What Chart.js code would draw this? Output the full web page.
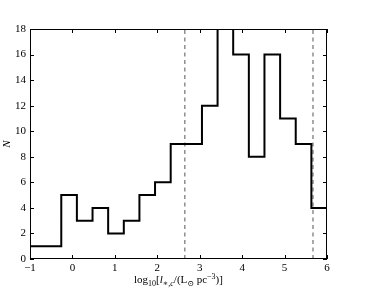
<!DOCTYPE html>
<html>
<head>
<meta charset="utf-8">
<script src="https://cdn.jsdelivr.net/npm/chart.js@4"></script>
<style>
  html, body { margin: 0; padding: 0; background: #fff; }
  #wrap { width: 366px; height: 288px; }
</style>
</head>
<body>
<div id="wrap"><canvas id="hist"></canvas></div>
<script>
// histogram bins (left edges) and counts
var binEdges = [-1.0, -0.632, -0.263, 0.105, 0.474, 0.842, 1.211, 1.579, 1.947, 2.316,
                2.684, 3.053, 3.421, 3.789, 4.158, 4.526, 4.895, 5.263, 5.632, 6.0];
var counts = [1, 1, 5, 3, 4, 2, 3, 5, 6, 9, 9, 12, 18, 16, 8, 16, 11, 9, 4];
// vertical dashed markers
var markerX = [2.65, 5.67];
var xTicks = [-1, 0, 1, 2, 3, 4, 5, 6];
var yTicks = [0, 2, 4, 6, 8, 10, 12, 14, 16, 18];

var serif = '"Liberation Serif", "DejaVu Serif", serif';

// step outline points
var stepPts = counts.map(function (c, i) { return { x: binEdges[i], y: c }; });
stepPts.push({ x: binEdges[binEdges.length - 1], y: counts[counts.length - 1] });
stepPts.push({ x: binEdges[binEdges.length - 1], y: 0 });

var datasets = [{
    data: stepPts, stepped: 'before', borderColor: '#000', borderWidth: 2,
    pointRadius: 0, fill: false, order: 0
}];
markerX.forEach(function (m) {
    datasets.push({
        data: [{ x: m, y: 0 }, { x: m, y: 18 }], borderColor: '#555', borderWidth: 1,
        borderDash: [4, 3.5], pointRadius: 0, fill: false, order: 1
    });
});

// frame + inward ticks on all four sides
var framePlugin = {
    id: 'frame',
    afterDraw: function (chart) {
        var ctx = chart.ctx, a = chart.chartArea;
        var xs = chart.scales.x, ys = chart.scales.y;
        ctx.save();
        ctx.strokeStyle = '#000';
        ctx.lineWidth = 1;
        ctx.strokeRect(a.left + 0.5, a.top + 0.5, a.right - a.left - 1, a.bottom - a.top - 1);
        ctx.beginPath();
        xTicks.forEach(function (v) {
            var px = Math.round(xs.getPixelForValue(v)) + 0.5;
            ctx.moveTo(px, a.bottom); ctx.lineTo(px, a.bottom - 4);
            ctx.moveTo(px, a.top); ctx.lineTo(px, a.top + 4);
        });
        yTicks.forEach(function (v) {
            var py = Math.round(ys.getPixelForValue(v)) + 0.5;
            ctx.moveTo(a.left, py); ctx.lineTo(a.left + 4, py);
            ctx.moveTo(a.right, py); ctx.lineTo(a.right - 4, py);
        });
        ctx.stroke();

        // x axis label with sub/superscripts
        var base = '11px ' + serif, small = '8px ' + serif;
        var ital = 'italic 11px ' + serif, smallItal = 'italic 8px ' + serif;
        var parts = [
            { t: 'log', f: base, dy: 0 }, { t: '10', f: small, dy: 3 }, { t: '[', f: base, dy: 0 },
            { t: 'l', f: ital, dy: 0 }, { t: '\u2217,c', f: smallItal, dy: 3 },
            { t: '/(L', f: base, dy: 0 }, { t: '\u2299', f: small, dy: 3 },
            { t: ' pc', f: base, dy: 0 }, { t: '\u22123', f: small, dy: -4 }, { t: ')]', f: base, dy: 0 }
        ];
        var total = 0;
        parts.forEach(function (p) { ctx.font = p.f; p.w = ctx.measureText(p.t).width; total += p.w; });
        var x = (a.left + a.right) / 2 - total / 2, baseY = 283;
        ctx.fillStyle = '#000';
        ctx.textBaseline = 'alphabetic';
        parts.forEach(function (p) { ctx.font = p.f; ctx.fillText(p.t, x, baseY + p.dy); x += p.w; });
        ctx.restore();
    }
};

new Chart(document.getElementById('hist'), {
    type: 'line',
    data: { datasets: datasets },
    options: {
        responsive: true, maintainAspectRatio: false, animation: false,
        layout: { padding: { top: 29, right: 39, left: 0, bottom: 0 } },
        plugins: { legend: { display: false }, tooltip: { enabled: false } },
        scales: {
            x: {
                type: 'linear', min: -1, max: 6,
                afterFit: function (s) { s.height = 29; },
                afterBuildTicks: function (s) { s.ticks = xTicks.map(function (v) { return { value: v }; }); },
                grid: { display: false, drawTicks: false }, border: { display: false },
                ticks: {
                    padding: 3, color: '#000', font: { family: serif, size: 11 },
                    callback: function (v) { return v < 0 ? '\u2212' + Math.abs(v) : '' + v; }
                }
            },
            y: {
                min: 0, max: 18,
                afterFit: function (s) { s.width = 30; },
                afterBuildTicks: function (s) { s.ticks = yTicks.map(function (v) { return { value: v }; }); },
                grid: { display: false, drawTicks: false }, border: { display: false },
                ticks: { padding: 4, color: '#000', font: { family: serif, size: 11 } },
                title: { display: true, text: 'N', color: '#000', padding: { top: 1, bottom: 0 },
                         font: { family: serif, size: 11, style: 'italic' } }
            }
        }
    },
    plugins: [framePlugin]
});
</script>
</body>
</html>
